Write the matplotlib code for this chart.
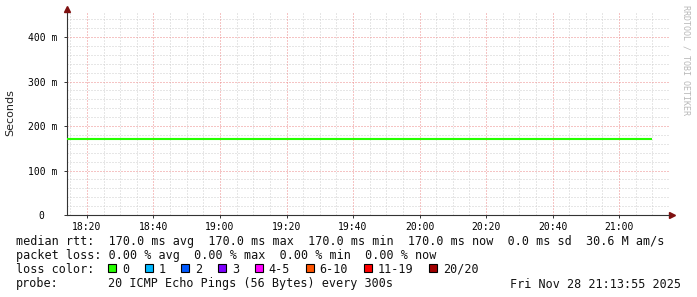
import numpy as np
import matplotlib
matplotlib.use("Agg")
import matplotlib.pyplot as plt

# --- data ---
bin_start = "18:10"      # first 5-minute bin
bin_minutes = 5
median_rtt_ms = [170.0, 170.0, 170.0, 170.0, 170.0, 170.0, 170.0, 170.0, 170.0,
                 170.0, 170.0, 170.0, 170.0, 170.0, 170.0, 170.0, 170.0, 170.0,
                 170.0, 170.0, 170.0, 170.0, 170.0, 170.0, 170.0, 170.0, 170.0,
                 170.0, 170.0, 170.0, 170.0, 170.0, 170.0, 170.0, 170.0, 170.0]
ping_max_ms = [170.0, 170.0, 170.0, 170.0, 170.0, 170.0, 170.0, 170.0, 170.0,
               170.0, 170.0, 170.0, 170.0, 170.0, 170.0, 170.0, 170.0, 170.0,
               170.0, 170.0, 170.0, 170.0, 170.0, 170.0, 170.0, 170.0, 170.0,
               170.0, 170.0, 170.0, 174.0, 170.0, 170.0, 170.0, 170.0, 170.0]

x_range = ("18:14", "21:15")
x_major = ["18:20", "18:40", "19:00", "19:20", "19:40", "20:00", "20:20", "20:40", "21:00"]
y_major_ms = [0, 100, 200, 300, 400]
y_labels = ["0  ", "100 m", "200 m", "300 m", "400 m"]
y_top_ms = 454

legend_lines = [
    "median rtt:  170.0 ms avg  170.0 ms max  170.0 ms min  170.0 ms now  0.0 ms sd  30.6 M am/s",
    "packet loss: 0.00 % avg  0.00 % max  0.00 % min  0.00 % now",
]
loss_labels = ["0", "1", "2", "3", "4-5", "6-10", "11-19", "20/20"]
loss_colors = ["#26ff00", "#00b8ff", "#0059ff", "#7e00ff", "#ff00ff", "#ff5500", "#ff0000", "#a10000"]
probe_text = "20 ICMP Echo Pings (56 Bytes) every 300s"
stamp = "Fri Nov 28 21:13:55 2025"


def minutes(hhmm):
    h, m = hhmm.split(":")
    return (int(h) - 18) * 60 + int(m)


MONO = "DejaVu Sans Mono"
W, H = 697, 297
fig = plt.figure(figsize=(W / 100, H / 100), dpi=100)
L, R, T, B = 67, 669, 13, 215
ax = fig.add_axes([L / W, 1 - B / H, (R - L) / W, (B - T) / H])

xlo, xhi = minutes(x_range[0]), minutes(x_range[1])
xt = [minutes(s) for s in x_major]
xminor = [m for m in range(minutes("18:15"), xhi + 1, 5) if m not in xt]
yminor = [v for v in range(20, y_top_ms, 20) if v % 100]

# grid, rrdtool style dots: 1px on, 2px off
dots = (0, (1, 2))
grid_kw = dict(lw=0.72, linestyles=[dots], zorder=0)
ax.vlines(xminor, 0, y_top_ms, colors="#cfcfcf", **grid_kw)
ax.hlines(yminor, xlo, xhi, colors="#cfcfcf", **grid_kw)
ax.vlines(xt, 0, y_top_ms, colors="#ec8a8a", **grid_kw)
ax.hlines(y_major_ms[1:], xlo, xhi, colors="#ec8a8a", **grid_kw)

t0 = minutes(bin_start)
edges = t0 + bin_minutes * np.arange(len(median_rtt_ms) + 1)
ax.stairs(ping_max_ms, edges, baseline=median_rtt_ms, fill=True, color="#d4d4d4", lw=0, zorder=2)
ax.stairs(median_rtt_ms, edges, baseline=None, color="#26ff00", lw=1.5, zorder=3)

ax.set_xlim(xlo, xhi)
ax.set_ylim(0, y_top_ms)

ax.set_xticks(xt)
ax.set_xticklabels(x_major, fontfamily=MONO, fontsize=7)
ax.set_yticks(y_major_ms)
ax.set_yticklabels(y_labels, fontfamily=MONO, fontsize=7)

ax.tick_params(which="major", length=2.2, width=0.7, color="#333333", pad=3)
ax.tick_params(axis="y", which="major", pad=5)

for side in ("top", "right"):
    ax.spines[side].set_visible(False)
for side in ("left", "bottom"):
    ax.spines[side].set_color("#333333")
    ax.spines[side].set_linewidth(0.8)

ax.plot([0], [1.02], marker="^", ms=4, color="#7f1010", transform=ax.transAxes, clip_on=False)
ax.plot([1.005], [0], marker=">", ms=4, color="#7f1010", transform=ax.transAxes, clip_on=False)

fig.text(10 / W, 1 - 113 / H, "Seconds", rotation=90, ha="center", va="center",
         fontsize=8, color="#222222")
fig.text(686 / W, 1 - 60 / H, "RRDTOOL / TOBI OETIKER", rotation=270, ha="center",
         va="center", fontsize=6, fontfamily=MONO, color="#b8b8b8")

# legend block
char_w = 7.1
x0 = 16
col13 = x0 + 13 * char_w
for i, line in enumerate(legend_lines):
    fig.text(x0 / W, 1 - (245 + 14 * i) / H, line, fontfamily=MONO, fontsize=8.5,
             va="baseline", color="#111111")

fig.text(x0 / W, 1 - 273 / H, "loss color:", fontfamily=MONO, fontsize=8.5,
         va="baseline", color="#111111")
bx = 108
for lab, col in zip(loss_labels, loss_colors):
    fig.patches.append(plt.Rectangle((bx / W, 1 - 272 / H), 8 / W, 8 / H, transform=fig.transFigure,
                                     facecolor=col, edgecolor="black", lw=0.8))
    fig.text((bx + 14) / W, 1 - 273 / H, lab, fontfamily=MONO, fontsize=8.5,
             va="baseline", color="#111111")
    bx += 29.6 + len(lab) * char_w

fig.text(x0 / W, 1 - 287.5 / H, "probe:", fontfamily=MONO, fontsize=8.5,
         va="baseline", color="#111111")
fig.text(col13 / W, 1 - 287.5 / H, probe_text, fontfamily=MONO, fontsize=8.5,
         va="baseline", color="#111111")
fig.text(681 / W, 1 - 287.5 / H, stamp, fontfamily=MONO, fontsize=8.5,
         va="baseline", ha="right", color="#111111")

fig.savefig("out.png", dpi=100)
